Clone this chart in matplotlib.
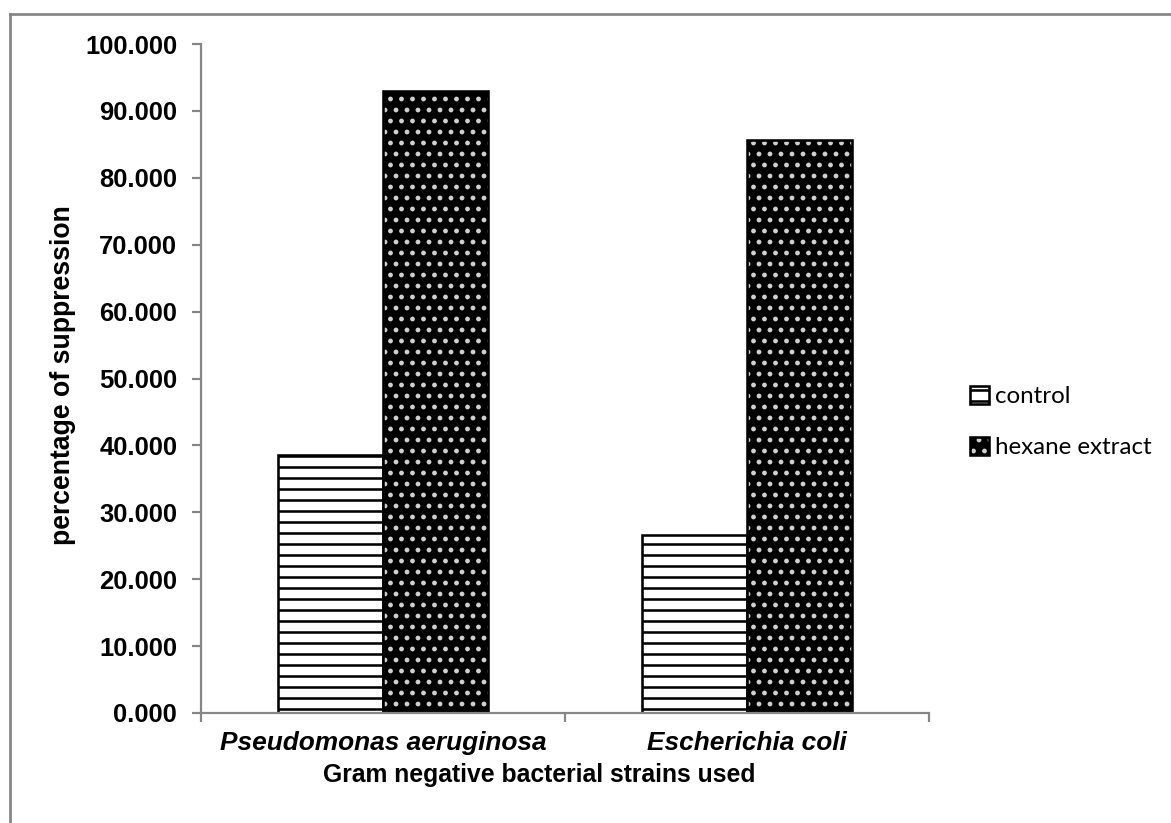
import matplotlib.pyplot as plt
import numpy as np
from matplotlib.patches import Patch
from matplotlib.legend_handler import HandlerTuple
from matplotlib.lines import Line2D

strains = ['Pseudomonas aeruginosa', 'Escherichia coli']
control = [38.6, 26.6]
hexane = [93.0, 85.6]
yticks = np.arange(0, 101, 10)

plt.rcParams['font.family'] = 'Liberation Sans'
plt.rcParams['hatch.linewidth'] = 1.4

dpi = 132
fig = plt.figure(figsize=(1171 / dpi, 823 / dpi), dpi=dpi)
ax = fig.add_axes([201 / 1171, 1 - 713 / 823, 728 / 1171, 669 / 823])

x = np.arange(len(strains))
w = 0.288
ax.bar(x - w / 2, control, w, facecolor='white', edgecolor='black', hatch='--', linewidth=1.4)
ax.bar(x + w / 2, hexane, w, facecolor='black', edgecolor='#d0d0d0', hatch='..', linewidth=0)
ax.bar(x + w / 2, hexane, w, fill=False, edgecolor='black', linewidth=1.4)

ax.set_xlim(-0.5, 1.5)
ax.set_ylim(0, 100)
ax.set_yticks(yticks)
ax.set_yticklabels(['%.3f' % v for v in yticks], fontsize=14, fontweight='bold')
ax.set_xticks([-0.5, 0.5, 1.5])
ax.set_xticklabels([])
ax.set_xticks(x, minor=True)
ax.set_xticklabels(strains, minor=True, fontsize=14.3, fontweight='bold', style='italic')
ax.tick_params(axis='x', which='minor', length=0, pad=10)
ax.tick_params(axis='both', which='major', length=5, color='#868686', width=1.2)
ax.tick_params(axis='y', pad=8)
for s in ['top', 'right']:
    ax.spines[s].set_visible(False)
for s in ['left', 'bottom']:
    ax.spines[s].set_color('#868686')
    ax.spines[s].set_linewidth(1.2)

ax.set_ylabel('percentage of suppression', fontsize=14.5, fontweight='bold')
ax.yaxis.set_label_coords(-0.172, 0.505)
ax.set_xlabel('Gram negative bacterial strains used', fontsize=13.5, fontweight='bold')
ax.xaxis.set_label_coords(0.465, -0.075)

h1 = Patch(facecolor='white', edgecolor='black', hatch='--', linewidth=1.4)
h2a = Patch(facecolor='black', edgecolor='#d0d0d0', hatch='..', linewidth=0)
h2b = Patch(fill=False, edgecolor='black', linewidth=1.4)
fig.legend([h1, (h2a, h2b)], ['control', 'hexane extract'],
           handler_map={tuple: HandlerTuple(ndivide=1, pad=0)},
           loc='center left', bbox_to_anchor=(948 / 1171, 1 - 422 / 823),
           frameon=False, prop={'family': 'Lato', 'size': 13.2},
           handlelength=0.8, handleheight=0.8, handletextpad=0.25, labelspacing=1.2)

# outer frame
fig.add_artist(Line2D([10 / 1171, 10 / 1171], [0, 1 - 14 / 823], transform=fig.transFigure, color='#868686', lw=1.5))
fig.add_artist(Line2D([10 / 1171, 1], [1 - 14 / 823, 1 - 14 / 823], transform=fig.transFigure, color='#868686', lw=1.5))

fig.savefig('out.png', dpi=dpi)
